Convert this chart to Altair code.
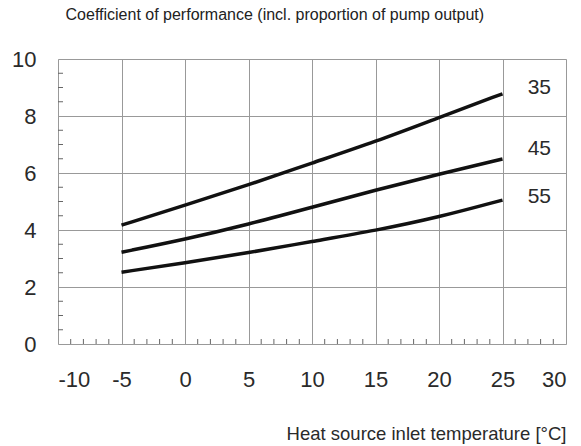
import altair as alt
import pandas as pd

# data
temps = [-5, 0, 5, 10, 15, 20, 25]
cop_35 = [4.17, 4.87, 5.58, 6.35, 7.1, 7.95, 8.78]
cop_45 = [3.22, 3.67, 4.2, 4.8, 5.4, 5.96, 6.49]
cop_55 = [2.52, 2.85, 3.2, 3.6, 3.98, 4.45, 5.05]
series_names = ["35", "45", "55"]
label_x = [27.9, 27.9, 27.9]
label_y = [9.0, 6.85, 5.15]
x_ticks = [-10, -5, 0, 5, 10, 15, 20, 25, 30]
y_ticks = [0, 2, 4, 6, 8, 10]
x_minor = [v for v in range(-9, 30) if v % 5 != 0]
y_minor = [v / 2 for v in range(1, 20) if v % 4 != 0]

FONT = "Liberation Sans"
W, H = 508, 285

rows = []
for name, vals in zip(series_names, [cop_35, cop_45, cop_55]):
    for t, v in zip(temps, vals):
        rows.append({"t": t, "cop": v, "series": name})
df = pd.DataFrame(rows)
labels = pd.DataFrame({"x": label_x, "y": label_y, "text": series_names})
xm = pd.DataFrame({"x": x_minor})
ym = pd.DataFrame({"y": y_minor})

xscale = alt.Scale(domain=[-10, 30], nice=False, zero=False)
yscale = alt.Scale(domain=[0, 10], nice=False)

lines = alt.Chart(df).mark_line(color="#111", strokeWidth=3.5, interpolate="basis").encode(
    x=alt.X("t:Q", scale=xscale,
            axis=alt.Axis(values=x_ticks, grid=True, gridColor="#999", gridWidth=1,
                          ticks=False, domain=False, labelFont=FONT, labelFontSize=22,
                          labelColor="#2a2a2a", labelPadding=25,
                          labelExpr="datum.value + ''",
                          title="Heat source inlet temperature [°C]",
                          titleFont=FONT, titleFontSize=18.5, titleFontWeight="normal",
                          titleColor="#2a2a2a", titleX=W, titleY=89, titleAlign="right",
                          titleBaseline="middle")),
    y=alt.Y("cop:Q", scale=yscale,
            axis=alt.Axis(values=y_ticks, grid=True, gridColor="#999", gridWidth=1,
                          ticks=False, domain=False, labelFont=FONT, labelFontSize=22,
                          labelColor="#2a2a2a", labelPadding=22, title="")),
    detail="series:N",
)

texts = alt.Chart(labels).mark_text(font=FONT, fontSize=21, color="#2a2a2a",
                                    align="center", baseline="middle").encode(
    x=alt.X("x:Q", scale=xscale), y=alt.Y("y:Q", scale=yscale), text="text:N")

xticks = alt.Chart(xm).mark_rule(color="#666", strokeWidth=1).encode(
    x=alt.X("x:Q", scale=xscale), y=alt.value(H), y2=alt.value(H - 5))
yticks = alt.Chart(ym).mark_rule(color="#666", strokeWidth=1).encode(
    y=alt.Y("y:Q", scale=yscale), x=alt.value(0), x2=alt.value(5))

chart = alt.layer(lines, xticks, yticks, texts).properties(
    width=W, height=H,
    autosize=alt.AutoSizeParams(type="none"),
    padding={"left": 58, "top": 59, "right": 15, "bottom": 102},
    title=alt.TitleParams("Coefficient of performance (incl. proportion of pump output)",
                          anchor="start", font=FONT, fontSize=16, fontWeight="normal",
                          color="#222", offset=25, dx=54),
).configure_view(stroke="#555", strokeWidth=1.5).configure(background="white")

chart.save("out.html", embed_options={"renderer": "svg", "actions": False})
